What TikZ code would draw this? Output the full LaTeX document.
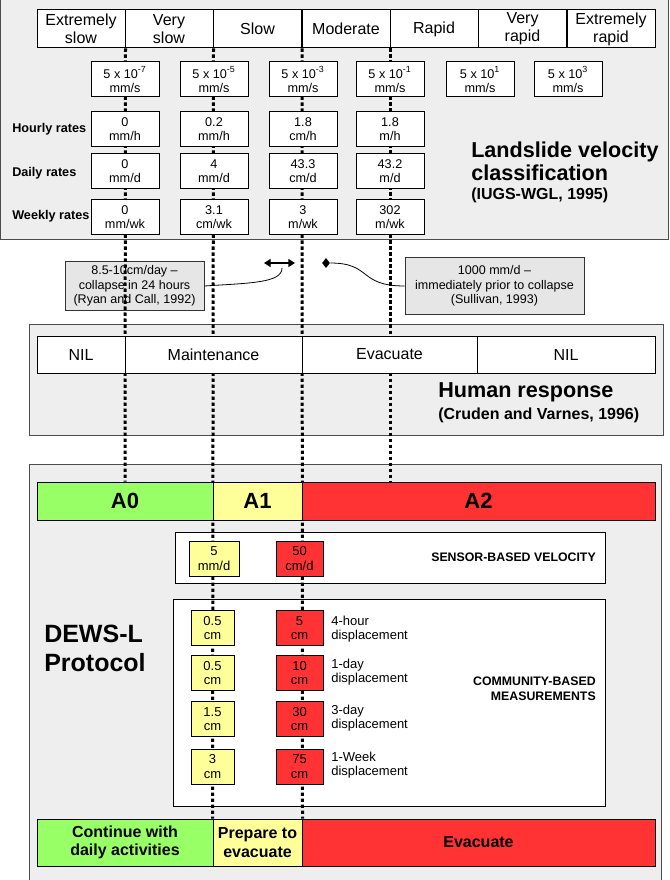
\documentclass[tikz,border=0pt]{standalone}
\usepackage{fontspec}
\setmainfont{Liberation Sans}
\usepackage{xcolor}
\usetikzlibrary{positioning,arrows.meta,shapes.geometric,backgrounds}

\definecolor{panelGray}{HTML}{EEEEEE}
\definecolor{noteGray}{HTML}{E6E6E6}
\definecolor{aGreen}{HTML}{99FF66}
\definecolor{aYellow}{HTML}{FFFF99}
\definecolor{aRed}{HTML}{FF3333}

\pgfdeclarelayer{panels}
\pgfdeclarelayer{guides}
\pgfsetlayers{panels,guides,main}

\begin{document}
\begin{tikzpicture}[
  x=0.75pt, y=-0.75pt,
  panel/.style={draw=black!70, line width=0.75pt, fill=panelGray},
  catCell/.style={draw, line width=0.75pt, fill=white, minimum width=66pt,
                  minimum height=28.5pt, inner sep=0pt, align=center,
                  font=\fontsize{12}{13.5}\selectfont},
  rateBox/.style={draw, line width=0.75pt, fill=white, minimum width=51pt,
                  minimum height=26.25pt, inner sep=0pt, align=center,
                  font=\fontsize{9.5}{10.5}\selectfont},
  rowLabel/.style={anchor=west, inner sep=0pt,
                   font=\bfseries\fontsize{9.5}{11}\selectfont},
  titleText/.style={anchor=west, inner sep=0pt, align=left,
                    font=\bfseries\fontsize{16.2}{17.25}\selectfont},
  refText/.style={anchor=west, inner sep=0pt,
                  font=\bfseries\fontsize{12}{13}\selectfont},
  noteBox/.style={draw=black!80, line width=0.75pt, fill=noteGray,
                  inner sep=0pt, align=center,
                  font=\fontsize{9.4}{10.9}\selectfont},
  hrCell/.style={draw, line width=0.75pt, fill=white, minimum height=27.75pt,
                 inner sep=0pt, font=\fontsize{12}{13.5}\selectfont},
  alertCell/.style={draw, line width=0.75pt, minimum height=28.5pt,
                    inner sep=0pt, font=\bfseries\fontsize{16.5}{17}\selectfont},
  groupBox/.style={draw, line width=0.75pt, fill=white, inner sep=0pt},
  groupLabel/.style={anchor=east, inner sep=0pt, align=right,
                     font=\bfseries\fontsize{9.25}{11}\selectfont},
  thrBox/.style={draw, line width=0.75pt, minimum height=26.25pt,
                 inner sep=0pt, align=center,
                 font=\fontsize{9.75}{11}\selectfont},
  dispLabel/.style={anchor=west, inner sep=0pt, align=left,
                    font=\fontsize{9.75}{10.5}\selectfont},
  actCell/.style={draw, line width=0.75pt, minimum height=35.25pt,
                  inner sep=0pt, align=center,
                  font=\bfseries\fontsize{12}{13.8}\selectfont},
  guide/.style={line width=2.25pt, dash pattern=on 2.6pt off 1.9pt},
  >=Stealth
]
  \useasboundingbox (0,0) rectangle (669,880);

  % === Panels and notes (bottom layer) ===
  \begin{pgfonlayer}{panels}
    \draw[panel] (0,0) rectangle (668,240);
    \draw[panel] (29,324) rectangle (663,435);
    \fill[panelGray] (29,464) rectangle (661,880);
    \draw[black!70, line width=0.75pt] (29,880) |- (661,464) -- (661,880);
    \node[groupBox, minimum width=322.5pt, minimum height=38.25pt]
      (sensor) at (390,557.5) {};
    \node[groupBox, minimum width=324pt, minimum height=155.25pt]
      (community) at (389,702.5) {};
    \node[noteBox, minimum width=104.25pt, minimum height=36pt] (ryan)
      at (134.5,286) {8.5-10cm/day –\\collapse in 24 hours\\(Ryan and Call, 1992)};
    \node[noteBox, minimum width=134.25pt, minimum height=42pt] (sullivan)
      at (494.5,286) {1000 mm/d –\\immediately prior to collapse\\(Sullivan, 1993)};
  \end{pgfonlayer}

  % === Landslide velocity classification ===
  \node[catCell] (es) at (81,29) {Extremely\\slow};
  \node[catCell] (vs) at (169,29) {Very\\slow};
  \node[catCell] (sl) at (257.5,29) {Slow};
  \node[catCell] (mo) at (346,29) {Moderate};
  \node[catCell] (ra) at (434,29) {Rapid};
  \node[catCell] (vr) at (522.5,29) {Very\\rapid};
  \node[catCell] (er) at (611,29) {Extremely\\rapid};

  \node[rateBox] (v1) at (125,79.5) {5 x 10\textsuperscript{-7}\\mm/s};
  \node[rateBox] (v2) at (214,79.5) {5 x 10\textsuperscript{-5}\\mm/s};
  \node[rateBox] (v3) at (303,79.5) {5 x 10\textsuperscript{-3}\\mm/s};
  \node[rateBox] (v4) at (390,79.5) {5 x 10\textsuperscript{-1}\\mm/s};
  \node[rateBox] (v5) at (480,79.5) {5 x 10\textsuperscript{1}\\mm/s};
  \node[rateBox] (v6) at (568,79.5) {5 x 10\textsuperscript{3}\\mm/s};

  \node[rowLabel] at (12,129.5) {Hourly rates};
  \node[rateBox] (h1) at (125,129.5) {0\\mm/h};
  \node[rateBox] (h2) at (214,129.5) {0.2\\mm/h};
  \node[rateBox] (h3) at (303,129.5) {1.8\\cm/h};
  \node[rateBox] (h4) at (390,129.5) {1.8\\m/h};

  \node[rowLabel] at (12,173) {Daily rates};
  \node[rateBox] (d1) at (125,171.5) {0\\mm/d};
  \node[rateBox] (d2) at (214,171.5) {4\\mm/d};
  \node[rateBox] (d3) at (303,171.5) {43.3\\cm/d};
  \node[rateBox] (d4) at (390,171.5) {43.2\\m/d};

  \node[rowLabel] at (12,216) {Weekly rates};
  \node[rateBox] (w1) at (125,217.5) {0\\mm/wk};
  \node[rateBox] (w2) at (214,217.5) {3.1\\cm/wk};
  \node[rateBox] (w3) at (303,217.5) {3\\m/wk};
  \node[rateBox] (w4) at (390,217.5) {302\\m/wk};

  \node[titleText] (lvTitle) at (471,161.5) {Landslide velocity\\classification};
  \node[refText] (lvRef) at (471,195) {(IUGS-WGL, 1995)};

  % === Collapse notes ===
  \coordinate (arrL) at (264,263);
  \coordinate (arrR) at (295,263);
  \coordinate (arrFoot) at (282,268);
  \draw[{Triangle[length=5pt,width=6pt]}-{Triangle[length=5pt,width=6pt]},
        line width=1pt] (arrL) -- (arrR);
  \draw[line width=0.6pt] (ryan.east) .. controls (250,283) and (282,283) .. (arrFoot);
  \node[diamond, fill=black, inner sep=0pt, minimum width=6pt,
        minimum height=7.5pt] (dia) at (326,263) {};
  \draw[line width=0.6pt] (dia.east) .. controls (372,263) and (358,286) .. (sullivan.west);

  % === Human response ===
  \node[hrCell, minimum width=66pt] (nilA) at (81,354.5) {NIL};
  \node[hrCell, minimum width=132.75pt] (maint) at (213.5,354.5) {Maintenance};
  \node[hrCell, minimum width=131.25pt] (evac) at (389.5,354.5) {Evacuate};
  \node[hrCell, minimum width=133.5pt] (nilB) at (566,354.5) {NIL};
  \node[titleText] (hrTitle) at (438,392) {Human response};
  \node[refText] (hrRef) at (438,415) {(Cruden and Varnes, 1996)};

  % === DEWS-L protocol ===
  \node[titleText, font=\bfseries\fontsize{18.75}{21.75}\selectfont]
    (dewsTitle) at (44,648) {DEWS-L\\Protocol};

  \node[alertCell, fill=aGreen, minimum width=132pt] (a0) at (125,501) {A0};
  \node[alertCell, fill=aYellow, minimum width=66.75pt] (a1) at (257.5,501) {A1};
  \node[alertCell, fill=aRed, minimum width=264.75pt] (a2) at (478.5,501) {A2};

  \node[thrBox, fill=aYellow, minimum width=37.5pt] (sy) at (214,558.5) {5\\mm/d};
  \node[thrBox, fill=aRed, minimum width=35.25pt] (sr) at (299.5,558.5) {50\\cm/d};
  \node[groupLabel] at (596,557) {SENSOR-BASED VELOCITY};

  \node[thrBox, fill=aYellow, minimum width=32.25pt] (cy1) at (212.5,628) {0.5\\cm};
  \node[thrBox, fill=aRed, minimum width=35.25pt] (cr1) at (299.5,628) {5\\cm};
  \node[dispLabel] at (331,629) {4-hour\\displacement};
  \node[thrBox, fill=aYellow, minimum width=32.25pt] (cy2) at (212.5,673) {0.5\\cm};
  \node[thrBox, fill=aRed, minimum width=35.25pt] (cr2) at (299.5,673) {10\\cm};
  \node[dispLabel] at (331,672) {1-day\\displacement};
  \node[thrBox, fill=aYellow, minimum width=32.25pt] (cy3) at (212.5,719) {1.5\\cm};
  \node[thrBox, fill=aRed, minimum width=35.25pt] (cr3) at (299.5,719) {30\\cm};
  \node[dispLabel] at (331,718) {3-day\\displacement};
  \node[thrBox, fill=aYellow, minimum width=32.25pt] (cy4) at (212.5,766.5) {3\\cm};
  \node[thrBox, fill=aRed, minimum width=35.25pt] (cr4) at (299.5,766.5) {75\\cm};
  \node[dispLabel] at (331,765.5) {1-Week\\displacement};
  \node[groupLabel] at (596,688.5) {COMMUNITY-BASED\\MEASUREMENTS};

  \node[actCell, fill=aGreen, minimum width=132pt] (cont) at (125,842.5)
    {Continue with\\daily activities};
  \node[actCell, fill=aYellow, minimum width=66.75pt] (prep) at (257.5,842.5)
    {Prepare to\\evacuate};
  \node[actCell, fill=aRed, minimum width=264.75pt] (evacAct) at (478.5,842.5)
    {Evacuate};

  % === Dotted guides between class limits ===
  \begin{pgfonlayer}{guides}
    \draw[guide] (es.south east) -- (a0.north);
    \draw[guide] (vs.south east) -- (prep.north west);
    \draw[guide] (sl.south east) -- (prep.north east);
    \draw[guide] (mo.south east) -- (mo.south east |- a2.north);
  \end{pgfonlayer}
\end{tikzpicture}
\end{document}
